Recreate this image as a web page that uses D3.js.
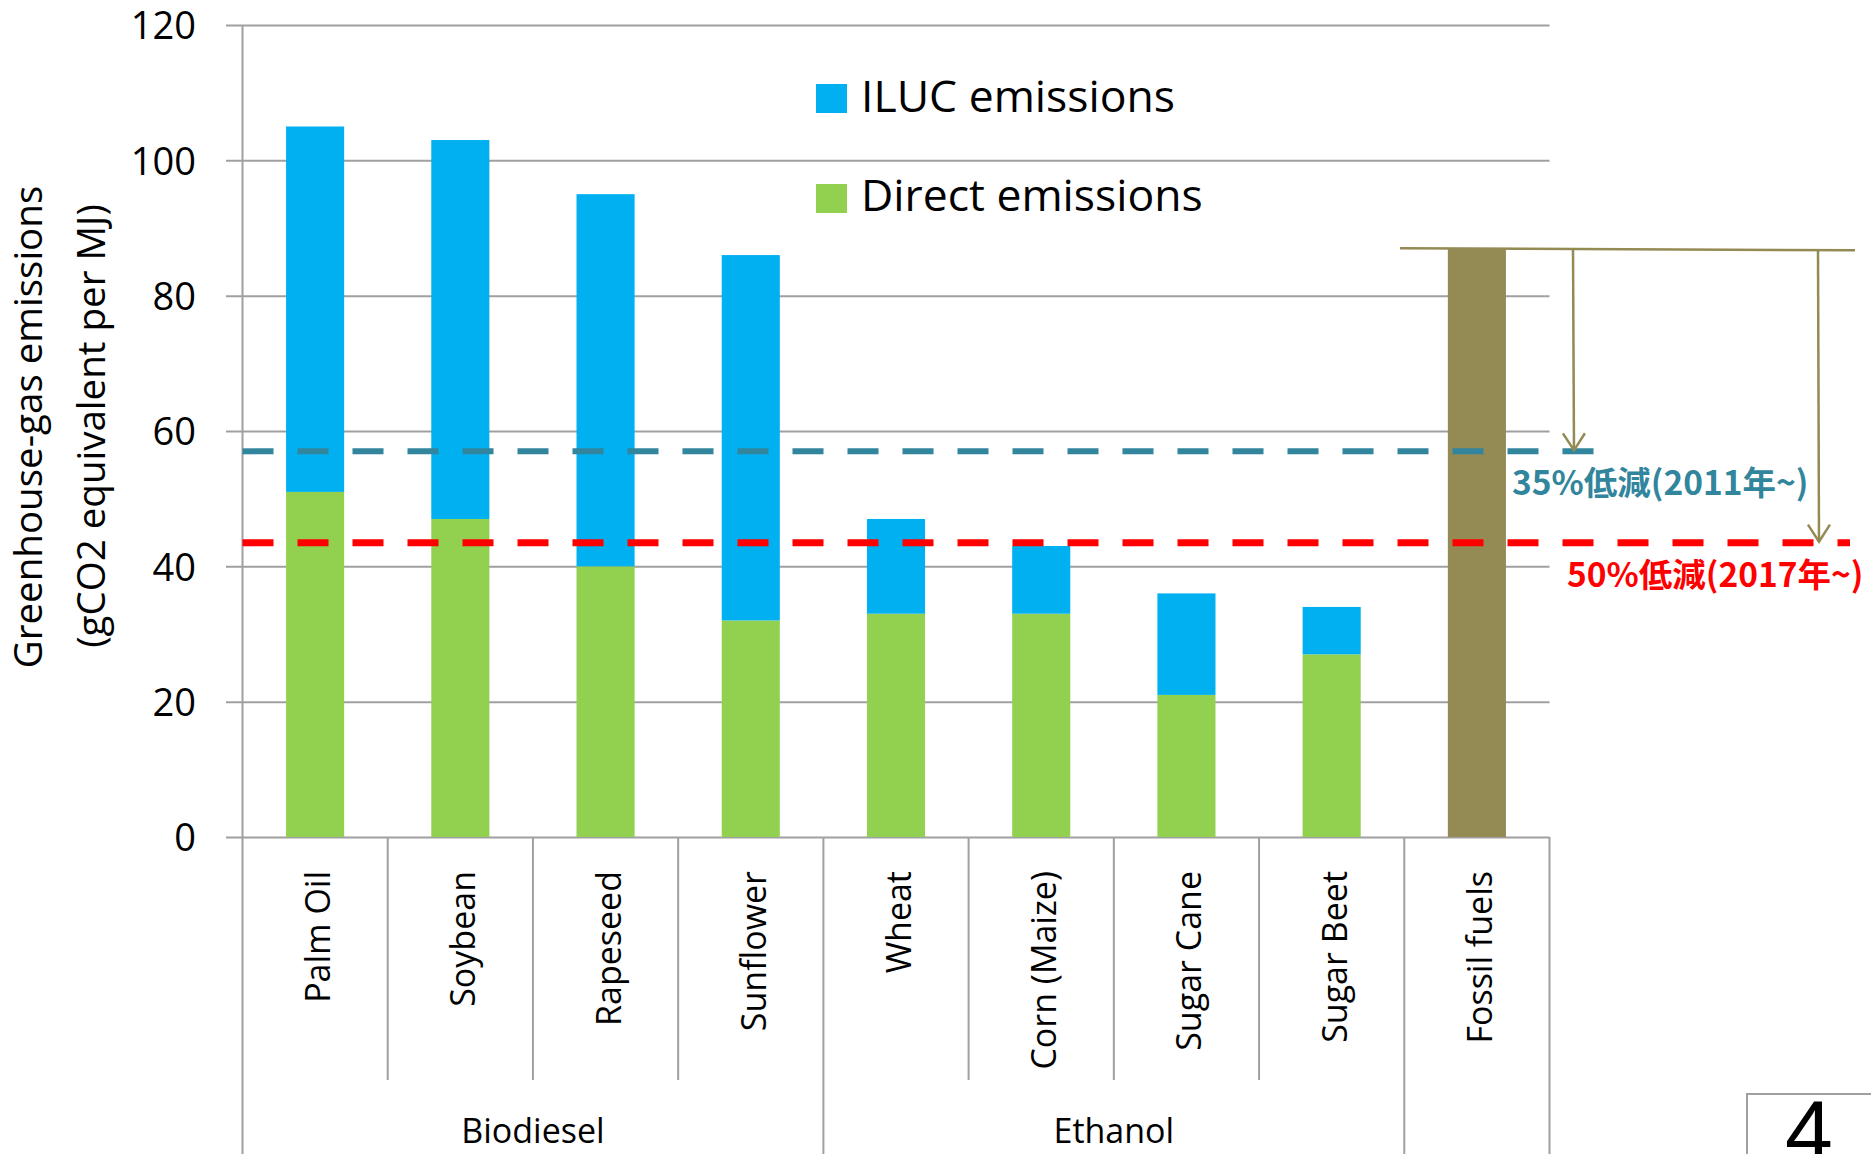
<!DOCTYPE html>
<html>
<head>
<meta charset="utf-8">
<script src="https://cdn.jsdelivr.net/npm/d3@7"></script>
<style>
    body { margin: 0; background: #ffffff; }
    svg { display: block; }
</style>
</head>
<body>
<script>
// values
let categories = ["Palm Oil", "Soybean", "Rapeseed", "Sunflower", "Wheat",
    "Corn (Maize)", "Sugar Cane", "Sugar Beet", "Fossil fuels"];
let direct = [51, 47, 40, 32, 33, 33, 21, 27, 0];
let iluc = [54, 56, 55, 54, 14, 10, 15, 7, 0];
let fossil = [0, 0, 0, 0, 0, 0, 0, 0, 87];

let groupNames = ["Biodiesel", "Ethanol", ""];
let groupSizes = [4, 4, 1];

let yTicks = [0, 20, 40, 60, 80, 100, 120];

let targetValues = [57, 43.5];
let targetLabels = ["35%低減(2011年~)", "50%低減(2017年~)"];

let legendLabels = ["ILUC emissions", "Direct emissions"];

function main() {

    let svg = d3.select("body").append("svg")
        .attr("width", 1871)
        .attr("height", 1154);

    let left = 242.5, right = 1549.5, top = 25, bottom = 837;
    let gridColor = "#a0a0a0";
    let font = "'Open Sans', sans-serif";

    let xScale = d3.scaleBand().domain(categories).range([left, right])
        .paddingInner(0.6).paddingOuter(0.3);
    let step = xScale.step();
    let yScale = d3.scaleLinear().domain([0, 120]).range([bottom, top]);

    let colors = { direct: "#92d050", iluc: "#00b0f0", fossil: "#948a54" };

    // gridlines + tick labels
    let yAxis = d3.axisLeft(yScale)
        .tickValues(yTicks)
        .tickSize(-(right - 226))
        .tickPadding(30);

    let gy = svg.append("g")
        .attr("transform", `translate(226,0)`)
        .call(yAxis);
    gy.select(".domain").remove();
    gy.selectAll("line")
        .attr("stroke", gridColor)
        .attr("stroke-width", 2);
    gy.selectAll("text")
        .attr("dy", "0.36em")
        .style("font-family", font)
        .style("font-size", "38px")
        .attr("fill", "#000");

    // left axis line, goes all the way down through the label area
    svg.append("line")
        .attr("x1", left).attr("x2", left)
        .attr("y1", top).attr("y2", 1154)
        .attr("stroke", gridColor).attr("stroke-width", 2);

    // category separators: short ones inside a group, long ones at group edges
    let edges = [0];
    groupSizes.forEach(n => edges.push(edges[edges.length - 1] + n));
    for (let i = 1; i <= categories.length; i++) {
        let x = left + i * step;
        let long = edges.includes(i);
        svg.append("line")
            .attr("x1", x).attr("x2", x)
            .attr("y1", bottom).attr("y2", long ? 1154 : 1080)
            .attr("stroke", gridColor).attr("stroke-width", 2);
    }

    // stacked bars
    let table = categories.map((c, i) => ({
        cat: c, direct: direct[i], iluc: iluc[i], fossil: fossil[i]
    }));
    let stack = d3.stack().keys(["direct", "iluc", "fossil"]);
    let series = stack(table);

    svg.selectAll("g.series")
        .data(series)
        .enter()
        .append("g")
        .attr("class", "series")
        .attr("fill", d => colors[d.key])
        .selectAll("rect")
        .data(d => d.filter(p => p[1] > p[0]))
        .enter()
        .append("rect")
        .attr("x", d => xScale(d.data.cat))
        .attr("width", xScale.bandwidth())
        .attr("y", d => yScale(d[1]))
        .attr("height", d => yScale(d[0]) - yScale(d[1]));

    // category labels (rotated)
    svg.selectAll("text.cat")
        .data(categories)
        .enter()
        .append("text")
        .attr("class", "cat")
        .attr("transform", d => `translate(${xScale(d) + xScale.bandwidth() / 2},871) rotate(-90)`)
        .attr("text-anchor", "end")
        .attr("dy", "0.44em")
        .style("font-family", font)
        .style("font-size", "34px")
        .text(d => d);

    // group labels
    groupNames.forEach((g, i) => {
        if (!g) return;
        let x = left + (edges[i] + groupSizes[i] / 2) * step;
        svg.append("text")
            .attr("x", x)
            .attr("y", 1143)
            .attr("text-anchor", "middle")
            .style("font-family", font)
            .style("font-size", "34px")
            .text(g);
    });

    // y axis title
    svg.append("text")
        .attr("transform", "translate(42,427) rotate(-90)")
        .attr("text-anchor", "middle")
        .style("font-family", font)
        .style("font-size", "38.5px")
        .text("Greenhouse-gas emissions");
    svg.append("text")
        .attr("transform", "translate(105,426) rotate(-90)")
        .attr("text-anchor", "middle")
        .style("font-family", font)
        .style("font-size", "38.5px")
        .text("(gCO2 equivalent per MJ)");

    // target lines
    let targetColors = ["#31859c", "#ff0000"];
    let targetEnds = [1617, 1850];
    targetValues.forEach((v, i) => {
        svg.append("line")
            .attr("x1", left).attr("x2", targetEnds[i])
            .attr("y1", yScale(v)).attr("y2", yScale(v))
            .attr("stroke", targetColors[i])
            .attr("stroke-width", i == 0 ? 6 : 7)
            .attr("stroke-dasharray", "31,24");
    });

    // bracket from the fossil bar with arrows down to targets
    let olive = "#948a54";
    svg.append("defs").append("marker")
        .attr("id", "head")
        .attr("viewBox", "-20 -14 24 28")
        .attr("refX", 0).attr("refY", 0)
        .attr("markerWidth", 24).attr("markerHeight", 28)
        .attr("markerUnits", "userSpaceOnUse")
        .attr("orient", "auto")
        .append("path")
        .attr("d", "M-17,-11L0,0L-17,11")
        .attr("fill", "none")
        .attr("stroke", olive)
        .attr("stroke-width", 2.5);

    let fTop = yScale(fossil[fossil.length - 1]);
    svg.append("line")
        .attr("x1", 1400).attr("x2", 1855)
        .attr("y1", fTop).attr("y2", fTop + 2)
        .attr("stroke", olive).attr("stroke-width", 2.5);

    let arrowX = [1573, 1818];
    targetValues.forEach((v, i) => {
        svg.append("line")
            .attr("x1", arrowX[i]).attr("x2", arrowX[i] + 1)
            .attr("y1", fTop + 1).attr("y2", yScale(v) - 1)
            .attr("stroke", olive).attr("stroke-width", 2.5)
            .attr("marker-end", "url(#head)");
    });

    // target labels
    let labelX = [1512, 1567];
    targetLabels.forEach((t, i) => {
        svg.append("text")
            .attr("x", labelX[i])
            .attr("y", yScale(targetValues[i]) + 44)
            .attr("fill", targetColors[i])
            .style("font-family", "'Noto Sans CJK JP', sans-serif")
            .style("font-weight", "bold")
            .style("font-size", "33.5px")
            .text(t);
    });

    // legend
    let legendColors = [colors.iluc, colors.direct];
    legendLabels.forEach((l, i) => {
        svg.append("rect")
            .attr("x", 816).attr("y", 84 + i * 100)
            .attr("width", 31).attr("height", 29)
            .attr("fill", legendColors[i]);
        svg.append("text")
            .attr("x", 861).attr("y", 112 + i * 99)
            .style("font-family", font)
            .style("font-size", "44.5px")
            .text(l);
    });

    // slide number box
    svg.append("rect")
        .attr("x", 1747).attr("y", 1094)
        .attr("width", 200).attr("height", 100)
        .attr("fill", "none")
        .attr("stroke", gridColor).attr("stroke-width", 2);
    svg.append("text")
        .attr("x", 1809).attr("y", 1160)
        .attr("text-anchor", "middle")
        .style("font-family", "'Liberation Sans', sans-serif")
        .style("font-size", "86px")
        .text("4");
}

main()
</script>
</body>
</html>
